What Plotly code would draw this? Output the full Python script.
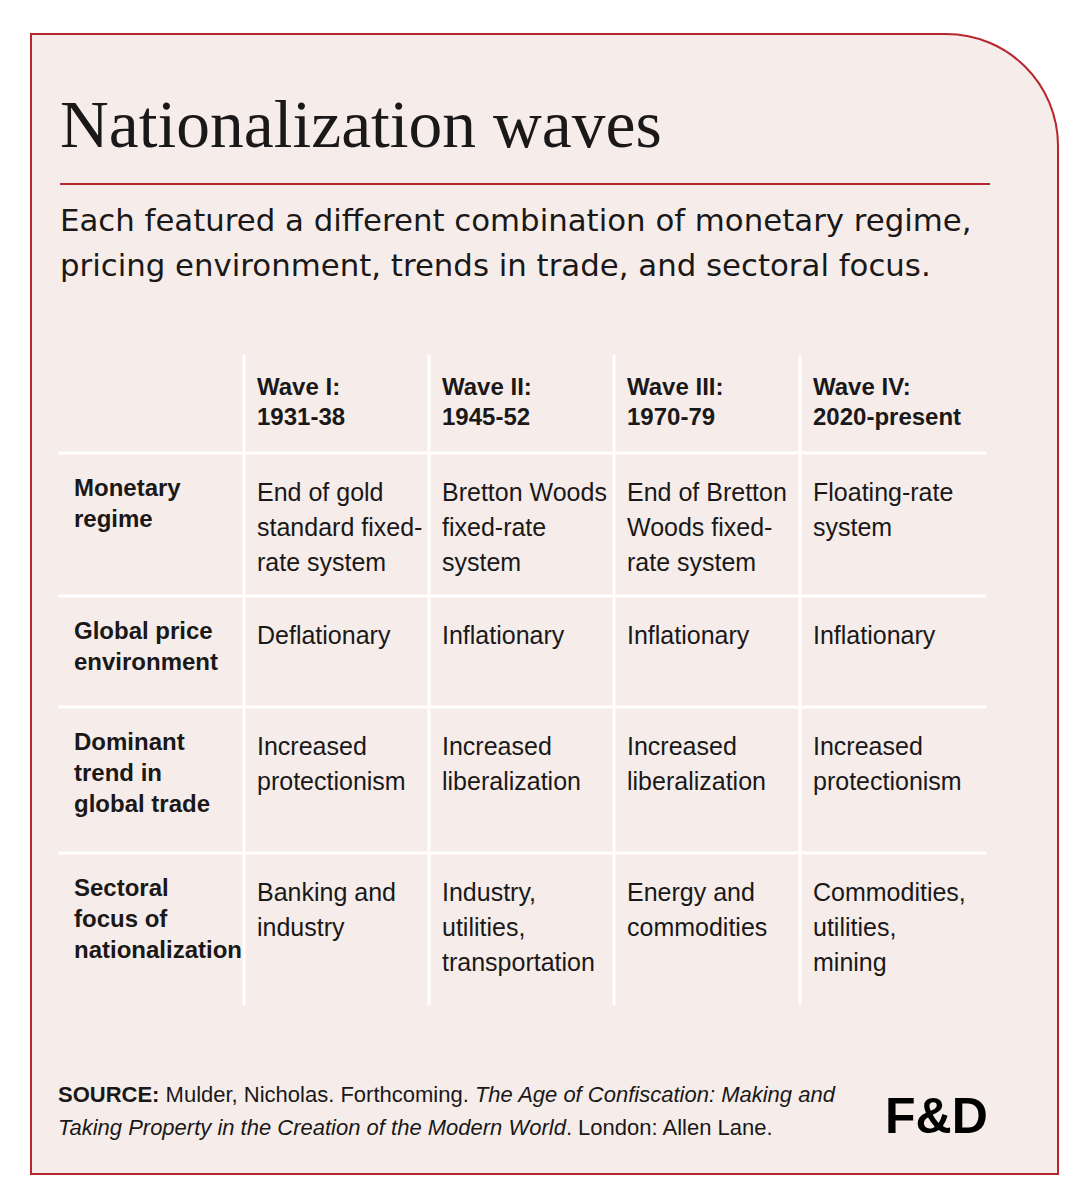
import plotly.graph_objects as go

# ---- content ----
title = "Nationalization waves"
subtitle = ["Each featured a different combination of monetary regime,",
            "pricing environment, trends in trade, and sectoral focus."]

wave_names = ["Wave I:", "Wave II:", "Wave III:", "Wave IV:"]
wave_years = ["1931-38", "1945-52", "1970-79", "2020-present"]

row_labels = [["Monetary", "regime"],
              ["Global price", "environment"],
              ["Dominant", "trend in", "global trade"],
              ["Sectoral", "focus of", "nationalization"]]

monetary_regime = [["End of gold", "standard fixed-", "rate system"],
                   ["Bretton Woods", "fixed-rate", "system"],
                   ["End of Bretton", "Woods fixed-", "rate system"],
                   ["Floating-rate", "system"]]
price_environment = [["Deflationary"], ["Inflationary"], ["Inflationary"], ["Inflationary"]]
trade_trend = [["Increased", "protectionism"], ["Increased", "liberalization"],
               ["Increased", "liberalization"], ["Increased", "protectionism"]]
sectoral_focus = [["Banking and", "industry"], ["Industry,", "utilities,", "transportation"],
                  ["Energy and", "commodities"], ["Commodities,", "utilities,", "mining"]]

table_rows = [monetary_regime, price_environment, trade_trend, sectoral_focus]

source_lines = ["<b>SOURCE:</b> Mulder, Nicholas. Forthcoming. <i>The Age of Confiscation: Making and</i>",
                "<i>Taking Property in the Creation of the Modern World</i>. London: Allen Lane."]

# ---- styling ----
W, H = 1083, 1200
PAD = 8  # page body margin, the axes start at this offset so coords match the page pixels
card_fill = "#F6EDEA"
card_line = "#B8262D"
ink = "#1A1818"
serif = "Liberation Serif, Times New Roman, serif"
sans = "Liberation Sans, Arial, sans-serif"
wide = "DejaVu Sans, Verdana, sans-serif"

col_edges = [58, 244, 429, 614, 800, 986]
row_edges = [355, 453, 596, 707, 853, 1005]

fig = go.Figure()
shapes = []
annotations = []

# card with rounded top-right corner
shapes.append(dict(type="path", xref="x", yref="y",
                   path="M31,34 H946 C1008,34 1058,84 1058,146 V1174 H31 Z",
                   fillcolor=card_fill, line=dict(color=card_line, width=2), layer="below"))
# red rule under title
shapes.append(dict(type="line", xref="x", yref="y", x0=60, x1=990, y0=184, y1=184,
                   line=dict(color=card_line, width=2)))

# table grid lines (white)
for y in row_edges[1:-1]:
    shapes.append(dict(type="line", xref="x", yref="y", x0=col_edges[0], x1=col_edges[-1],
                       y0=y, y1=y, line=dict(color="white", width=3)))
for x in col_edges[1:-1]:
    shapes.append(dict(type="line", xref="x", yref="y", x0=x, x1=x,
                       y0=row_edges[0], y1=row_edges[-1], line=dict(color="white", width=3)))


def add_text(x, y, text, font, size, bold=False, xanchor="left", color=ink):
    annotations.append(dict(x=x, y=y, xref="x", yref="y", text=text, showarrow=False,
                            xanchor=xanchor, yanchor="middle",
                            font=dict(family=font, size=size, color=color,
                                      weight="bold" if bold else "normal")))


# title & subtitle
add_text(58, 124, title, serif, 67.5)
for i, line in enumerate(subtitle):
    add_text(58, 220 + i * 45, line, wide, 30.8)

# header row
for c, (name, years) in enumerate(zip(wave_names, wave_years)):
    x = col_edges[c + 1] + 11
    add_text(x, row_edges[0] + 31, name, sans, 24, bold=True)
    add_text(x, row_edges[0] + 61, years, sans, 24, bold=True)

# body rows
for r, (label, cells) in enumerate(zip(row_labels, table_rows)):
    top = row_edges[r + 1]
    for i, line in enumerate(label):
        add_text(72, top + 34 + i * 31, line, sans, 24, bold=True)
    for c, cell in enumerate(cells):
        x = col_edges[c + 1] + 11
        for i, line in enumerate(cell):
            add_text(x, top + 39 + i * 35, line, sans, 25)

# source
for i, line in enumerate(source_lines):
    add_text(56, 1094 + i * 33, line, sans, 22)

# logo
add_text(936, 1116, "<b>F&amp;D</b>", sans, 50, xanchor="center", color="#000000")

fig.update_layout(
    width=W - 2 * PAD, height=H - 2 * PAD,
    margin=dict(l=0, r=0, t=0, b=0),
    paper_bgcolor="white", plot_bgcolor="white",
    xaxis=dict(range=[PAD, W - PAD], visible=False, fixedrange=True),
    yaxis=dict(range=[H - PAD, PAD], visible=False, fixedrange=True),
    shapes=shapes, annotations=annotations,
    showlegend=False,
)

fig.write_html("out.html")
